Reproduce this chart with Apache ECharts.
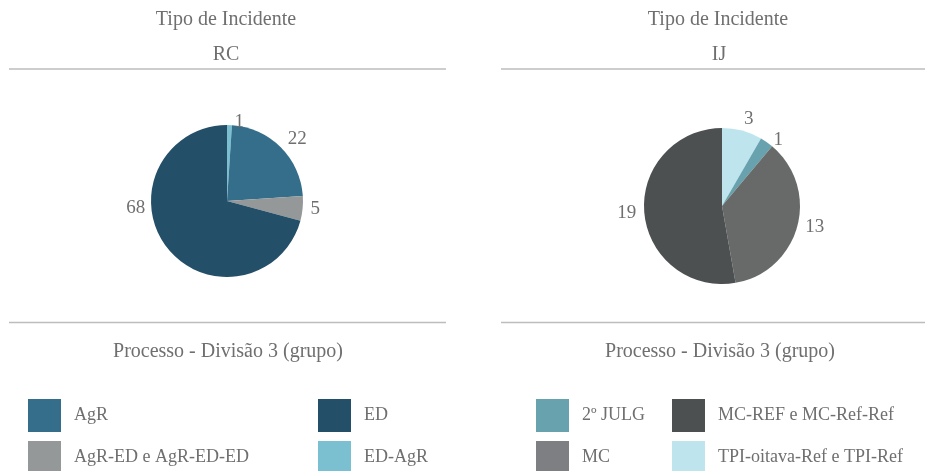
<!DOCTYPE html>
<html>
<head>
<meta charset="utf-8">
<script src="https://cdn.jsdelivr.net/npm/echarts@6/dist/echarts.min.js"></script>
<style>
html,body{margin:0;padding:0;background:#fff;}
#chart{width:925px;height:471px;}
</style>
</head>
<body>
<div id="chart"></div>
<script>
// ---- data ----
const leftTitle = 'Tipo de Incidente';
const leftSub = 'RC';
const rightTitle = 'Tipo de Incidente';
const rightSub = 'IJ';
const footerTitle = 'Processo - Divisão 3 (grupo)';

const rcNames = ['ED-AgR', 'AgR', 'AgR-ED e AgR-ED-ED', 'ED'];
const rcValues = [1, 22, 5, 68];
const rcColors = ['#7ac0d0', '#346e8a', '#949898', '#234f68'];
const rcLegendCol1 = ['AgR', 'AgR-ED e AgR-ED-ED'];
const rcLegendCol2 = ['ED', 'ED-AgR'];

const ijNames = ['TPI-oitava-Ref e TPI-Ref', '2º JULG', 'MC', 'MC-REF e MC-Ref-Ref'];
const ijValues = [3, 1, 13, 19];
const ijColors = ['#bee4ed', '#68a2ae', '#676a69', '#4c5051'];
const ijLegendCol1 = ['2º JULG', 'MC'];
const ijLegendCol2 = ['MC-REF e MC-Ref-Ref', 'TPI-oitava-Ref e TPI-Ref'];
const legendColorOverride = { 'MC': '#7e7f83' };

// ---- chart ----
const FONT = 'Liberation Serif, Times New Roman, serif';
const TXT = '#6f6f6f';
const chart = echarts.init(document.getElementById('chart'), null, { renderer: 'canvas' });

function pieData(names, values, colors) {
  return names.map((n, i) => ({ name: n, value: values[i], itemStyle: { color: colors[i] } }));
}
function legendData(names) {
  return names.map(n => legendColorOverride[n] ? { name: n, itemStyle: { color: legendColorOverride[n] } } : { name: n });
}
function legend(x, names) {
  return {
    orient: 'vertical', left: x, top: 399, height: 150, padding: 0, itemGap: 9,
    itemWidth: 33, itemHeight: 33, icon: 'rect', selectedMode: false,
    data: legendData(names),
    textStyle: { fontFamily: FONT, fontSize: 18, color: TXT, padding: [0, 0, 0, 8] }
  };
}
function pieSeries(center, radius, names, values, colors, layoutFn) {
  const s = {
    type: 'pie', center: center, radius: radius, startAngle: 90, clockwise: true,
    avoidLabelOverlap: false, animation: false,
    data: pieData(names, values, colors),
    itemStyle: { borderWidth: 0 },
    label: { show: true, position: 'outside', formatter: '{c}', fontFamily: FONT, fontSize: 19, color: TXT, distanceToLabelLine: 5 },
    labelLine: { show: false, length: 3, length2: 0 },
    emphasis: { scale: false }
  };
  if (layoutFn) s.labelLayout = layoutFn;
  return s;
}
function txt(x, y, s, size) {
  return { type: 'text', x: x, y: y, style: { text: s, textAlign: 'center', textVerticalAlign: 'middle', font: size + 'px ' + FONT, fill: TXT } };
}
function hline(x1, x2, y) {
  return { type: 'line', shape: { x1: x1, y1: y, x2: x2, y2: y }, style: { stroke: '#bdbdbd', lineWidth: 1.5 } };
}

chart.setOption({
  backgroundColor: '#fff',
  animation: false,
  legend: [legend(28, rcLegendCol1), legend(318, rcLegendCol2), legend(536, ijLegendCol1), legend(672, ijLegendCol2)],
  graphic: [
    txt(226, 20, leftTitle, 20), txt(226, 55, leftSub, 20),
    txt(718, 20, rightTitle, 20), txt(719, 55, rightSub, 20),
    hline(9, 446, 69), hline(501, 925, 69),
    hline(9, 446, 322.5), hline(501, 925, 322.5),
    txt(228, 352, footerTitle, 20), txt(720, 352, footerTitle, 20)
  ],
  series: [
    pieSeries([227, 201], 76, rcNames, rcValues, rcColors,
      p => (p.dataIndex === 3 ? { dx: -14, dy: -41 } : (p.dataIndex === 1 ? { dy: -6 } : {}))),
    pieSeries([722, 206], 78, ijNames, ijValues, ijColors,
      p => (p.dataIndex === 0 ? { dx: -4, dy: -9 } : {}))
  ]
});
</script>
</body>
</html>
